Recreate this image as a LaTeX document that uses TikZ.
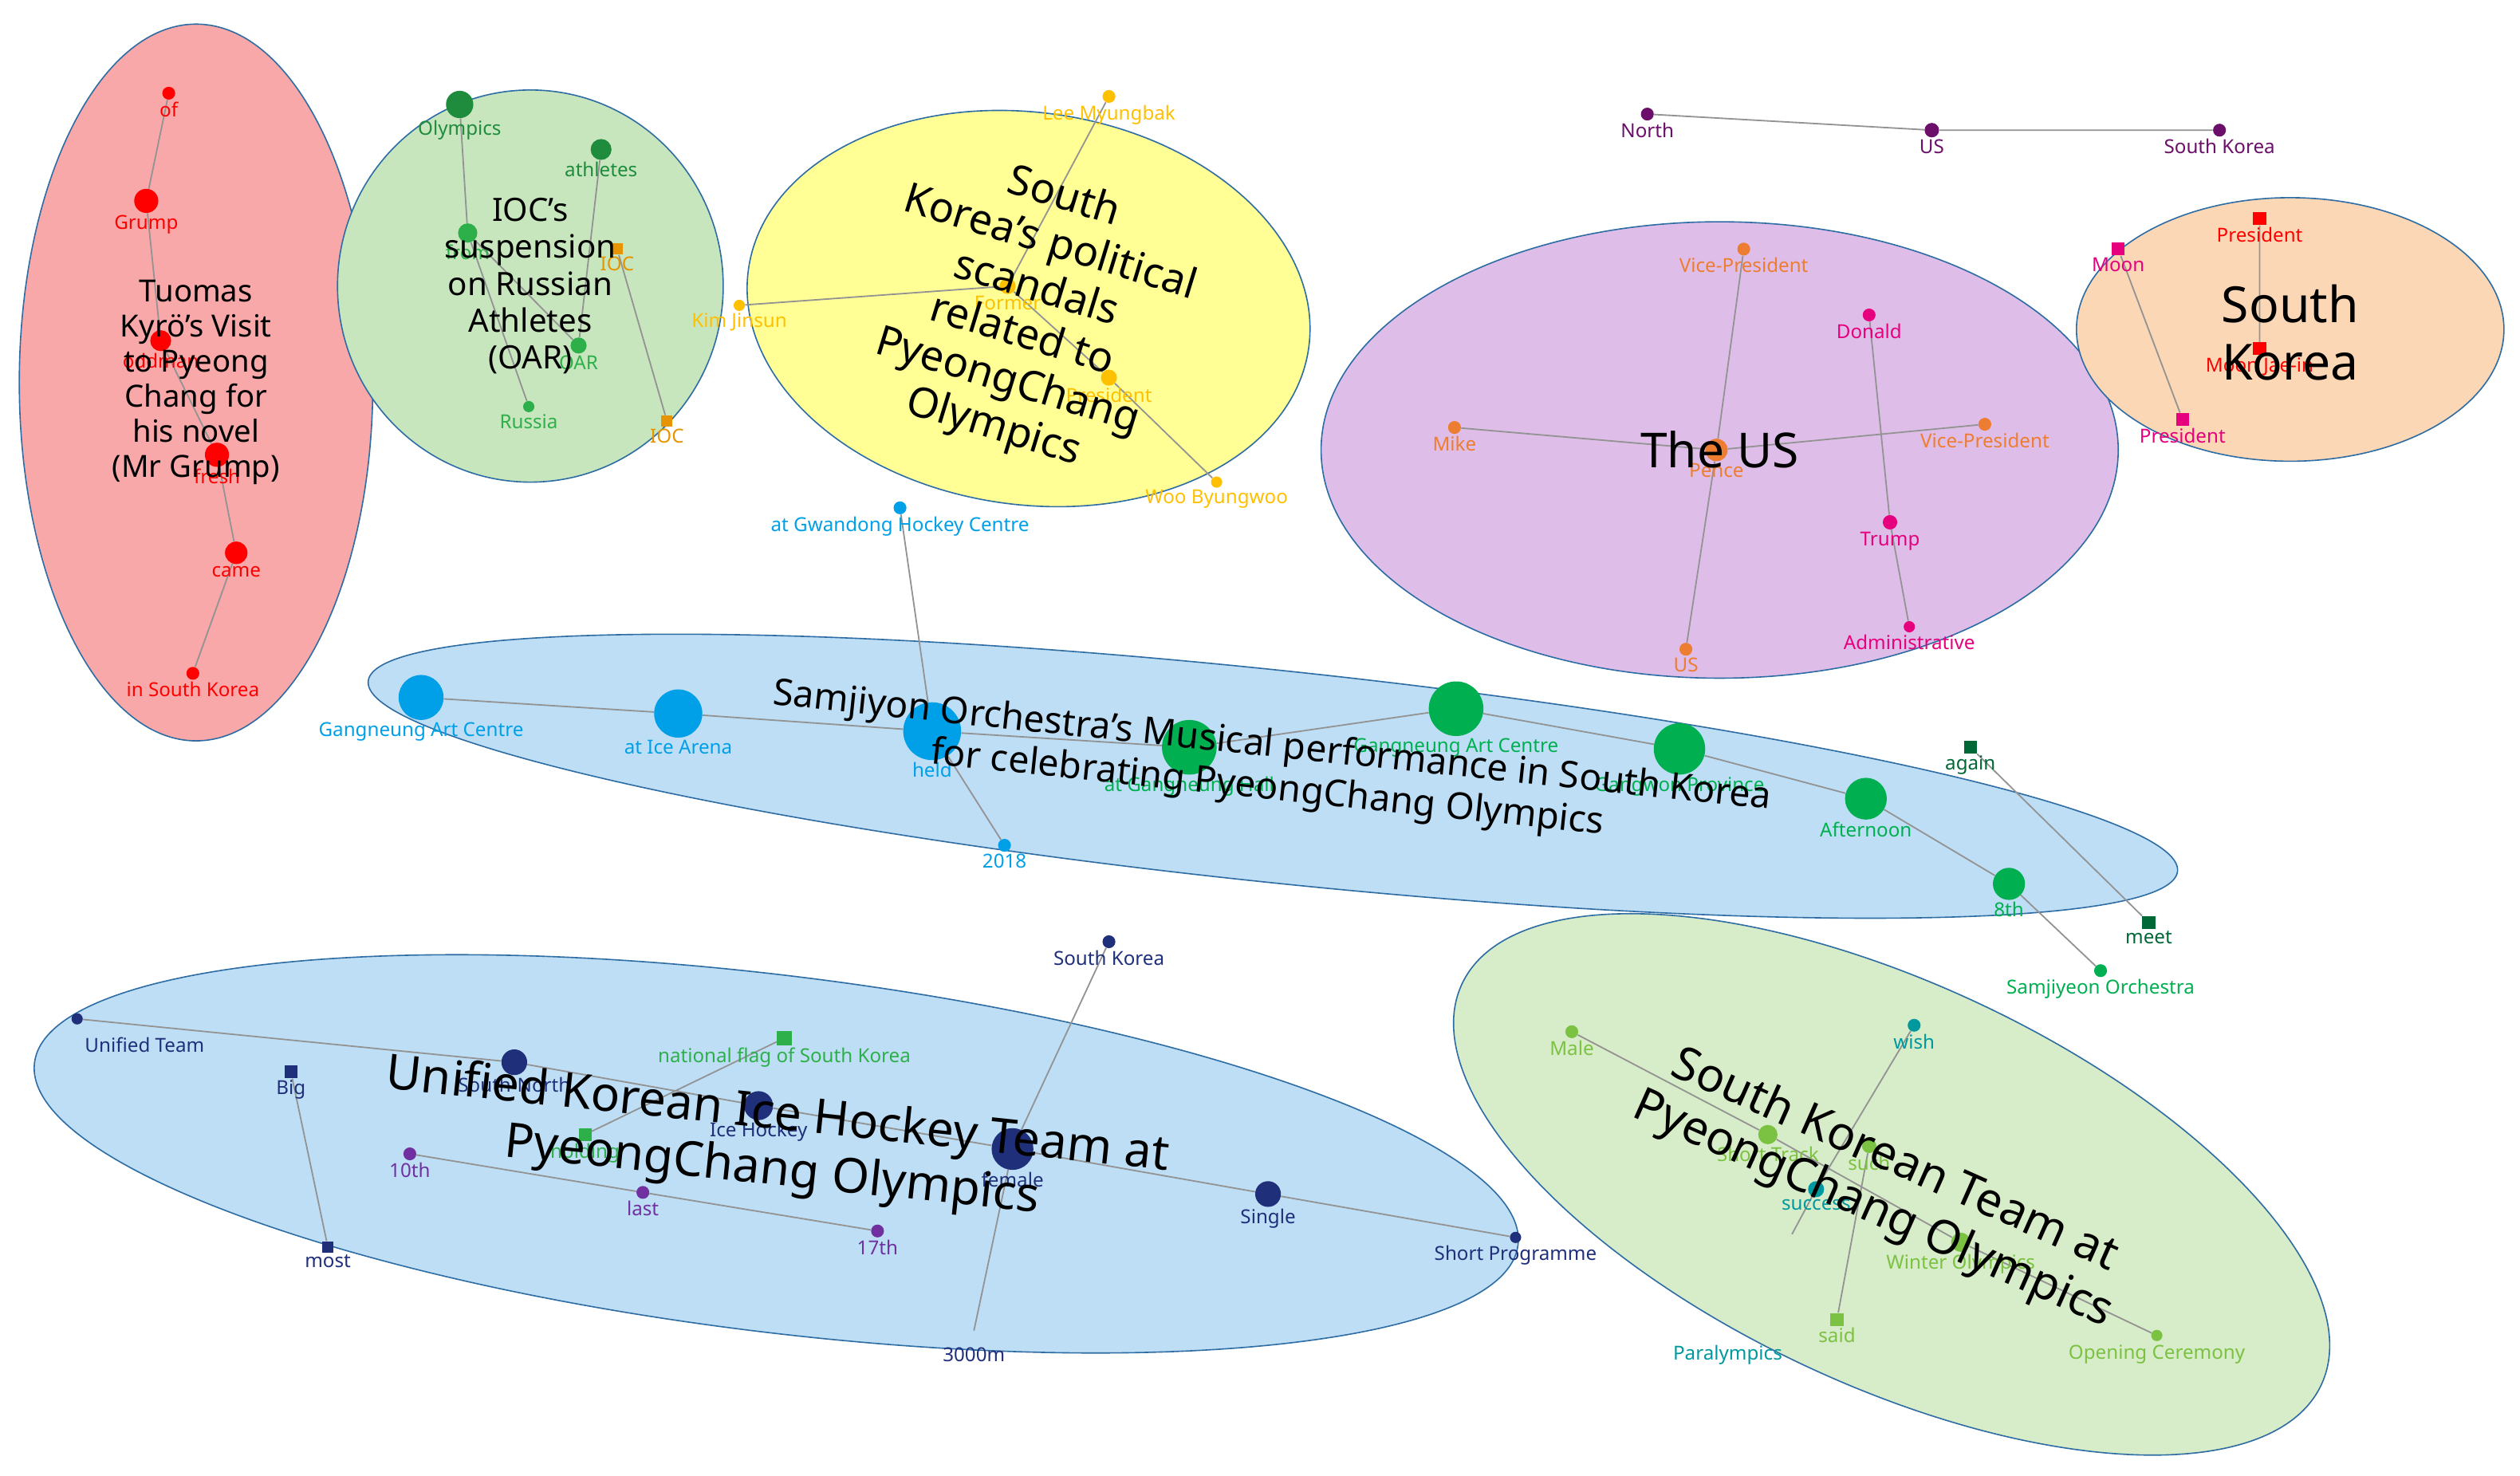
\documentclass[tikz,border=0pt]{standalone}
\usepackage{fontspec}
\setmainfont{Noto Sans}
\usetikzlibrary{shapes.geometric}
\pgfdeclarelayer{bg}\pgfdeclarelayer{ed}
\pgfsetlayers{bg,ed,main}
\definecolor{cRed}{HTML}{FF0000}\definecolor{cDG}{HTML}{1E8C3C}\definecolor{cOr}{HTML}{E69500}
\definecolor{cYe}{HTML}{FFC000}\definecolor{cPu}{HTML}{6B0F6B}\definecolor{cOg}{HTML}{ED7D31}
\definecolor{cPk}{HTML}{E6007E}\definecolor{cBl}{HTML}{00A0E9}\definecolor{cGr}{HTML}{00B050}
\definecolor{cDk}{HTML}{006837}\definecolor{cNv}{HTML}{1F2F7A}\definecolor{cVi}{HTML}{7030A0}
\definecolor{cLg}{HTML}{7CC242}\definecolor{cTe}{HTML}{00999F}\definecolor{cMG}{HTML}{2DB04A}
\definecolor{cEd}{HTML}{2E6DA4}
\tikzset{
 ell/.style={ellipse,draw=cEd,line width=0.8pt,inner sep=0},
 ed/.style={draw=gray!85,line width=0.9pt},
 ttl/.style={align=center,font=\fontsize{#1}{1.15\dimexpr#1pt\relax}\selectfont,text=black},
 lb/.style={font=\fontsize{12}{13}\selectfont,inner sep=1pt}
}
\newcommand\dt[6]{\node[circle,fill=#5,minimum size=#4pt,inner sep=0,label={[lb,text=#5,label distance=0pt]below:{#6}}] (#1) at (#2,#3) {};}
\newcommand\sq[6]{\node[rectangle,fill=#5,minimum size=#4pt,inner sep=0,label={[lb,text=#5,label distance=0pt]below:{#6}}] (#1) at (#2,#3) {};}
\begin{document}
\begin{tikzpicture}[x=1pt,y=-1pt]
\useasboundingbox (0,0) rectangle (1568,918);
\begin{pgfonlayer}{bg}
\fill[white] (0,0) rectangle (1568,918);
\node[ell,fill={rgb,255:red,248;green,168;blue,168},minimum width=220pt,minimum height=446pt] (e1) at (122,238) {};
\node[ell,fill={rgb,255:red,200;green,230;blue,190},minimum width=240pt,minimum height=244pt] (e2) at (330,178) {};
\node[ell,fill={rgb,255:red,255;green,255;blue,150},minimum width=352pt,minimum height=244pt,rotate=-8] (e3) at (640,192) {};
\node[ell,fill={rgb,255:red,222;green,190;blue,232},minimum width=496pt,minimum height=284pt] (e4) at (1070,280) {};
\node[ell,fill={rgb,255:red,252;green,215;blue,182},minimum width=266pt,minimum height=164pt] (e5) at (1425,205) {};
\node[ell,fill={rgb,255:red,190;green,222;blue,245},minimum width=1132pt,minimum height=132pt,rotate=-6] (e6) at (792,483) {};
\node[ell,fill={rgb,255:red,190;green,222;blue,245},minimum width=930pt,minimum height=222pt,rotate=-7] (e7) at (483,718) {};
\node[ell,fill={rgb,255:red,215;green,236;blue,200},minimum width=590pt,minimum height=250pt,rotate=-25] (e8) at (1177,737) {};
\end{pgfonlayer}
% red group
\dt{r1}{105}{58}{8}{cRed}{of}
\dt{r2}{91}{125}{15}{cRed}{Grump}
\dt{r3}{100}{212}{13}{cRed}{oddman}
\dt{r4}{135}{283}{15}{cRed}{fresh}
\dt{r5}{147}{344}{14}{cRed}{came}
\dt{r6}{120}{419}{8}{cRed}{in South Korea}
% green group
\dt{g1}{286}{65}{17}{cDG}{Olympics}
\dt{g2}{374}{93}{13}{cDG}{athletes}
\dt{g3}{291}{145}{12}{cMG}{from}
\sq{g4}{384}{155}{7}{cOr}{IOC}
\dt{g5}{360}{215}{10}{cMG}{OAR}
\dt{g6}{329}{253}{7}{cMG}{Russia}
\sq{g7}{415}{262}{7}{cOr}{IOC}
% yellow group
\dt{y1}{690}{60}{8}{cYe}{Lee Myungbak}
\dt{y2}{460}{190}{7}{cYe}{Kim Jinsun}
\dt{y3}{627}{178}{10}{cYe}{Former}
\dt{y4}{690}{235}{10}{cYe}{President}
\dt{y5}{757}{300}{7}{cYe}{Woo Byungwoo}
% top right
\dt{p1}{1025}{71}{8}{cPu}{North}
\dt{p2}{1202}{81}{9}{cPu}{US}
\dt{p3}{1381}{81}{8}{cPu}{South Korea}
% purple ellipse
\dt{u1}{1085}{155}{8}{cOg}{Vice-President}
\dt{u2}{1163}{196}{8}{cPk}{Donald}
\dt{u3}{905}{266}{8}{cOg}{Mike}
\dt{u4}{1068}{280}{14}{cOg}{Pence}
\dt{u5}{1235}{264}{8}{cOg}{Vice-President}
\dt{u6}{1176}{325}{9}{cPk}{Trump}
\dt{u7}{1049}{404}{8}{cOg}{US}
\dt{u8}{1188}{390}{7}{cPk}{Administrative}
% orange ellipse
\sq{k1}{1406}{136}{8}{cRed}{President}
\sq{k2}{1318}{155}{8}{cPk}{Moon}
\sq{k3}{1406}{217}{8}{cRed}{Moon Jae-in}
\sq{k4}{1358}{261}{8}{cPk}{President}
% band
\dt{b1}{262}{434}{28}{cBl}{Gangneung Art Centre}
\dt{b2}{422}{444}{30}{cBl}{at Ice Arena}
\dt{b3}{580}{455}{36}{cBl}{held}
\dt{b4}{560}{316}{8}{cBl}{at Gwandong Hockey Centre}
\dt{b5}{625}{526}{8}{cBl}{2018}
\dt{c1}{740}{465}{34}{cGr}{at Gangneung Hall}
\dt{c2}{906}{441}{34}{cGr}{Gangneung Art Centre}
\dt{c3}{1045}{466}{32}{cGr}{Gangwon Province}
\dt{c4}{1161}{497}{26}{cGr}{Afternoon}
\dt{c5}{1250}{550}{20}{cGr}{8th}
\dt{c6}{1307}{604}{8}{cGr}{Samjiyeon Orchestra}
\sq{c7}{1226}{465}{8}{cDk}{again}
\sq{c8}{1337}{574}{8}{cDk}{meet}
% bottom blue
\dt{n1}{48}{634}{7}{cNv}{}
\node[lb,text=cNv] at (90,650) {Unified Team};
\sq{n2}{181}{667}{8}{cNv}{Big}
\sq{n3}{204}{776}{7}{cNv}{most}
\dt{n4}{320}{661}{16}{cNv}{South-North}
\sq{n5}{488}{646}{9}{cMG}{national flag of South Korea}
\sq{n6}{364}{706}{8}{cMG}{holding}
\dt{n7}{472}{688}{18}{cNv}{Ice Hockey}
\dt{v1}{255}{718}{8}{cVi}{10th}
\dt{v2}{400}{742}{8}{cVi}{last}
\dt{v3}{546}{766}{8}{cVi}{17th}
\dt{n8}{630}{715}{26}{cNv}{female}
\dt{n9}{690}{586}{8}{cNv}{South Korea}
\coordinate (n10) at (606,828);
\node[lb,text=cNv] at (606,843) {3000m};
\dt{n11}{789}{743}{16}{cNv}{Single}
\dt{n12}{943}{770}{7}{cNv}{Short Programme}
% green bottom
\dt{l1}{978}{642}{8}{cLg}{Male}
\dt{l2}{1191}{638}{8}{cTe}{wish}
\dt{l3}{1100}{706}{12}{cLg}{Short Track}
\dt{l4}{1163}{713}{9}{cLg}{such}
\dt{l5}{1130}{740}{10}{cTe}{success}
\dt{l6}{1220}{773}{12}{cLg}{Winter Olympics}
\sq{l7}{1143}{821}{8}{cLg}{said}
\coordinate (l8) at (1115,768);
\node[lb,text=cTe] at (1075,843) {Paralympics};
\dt{l9}{1342}{831}{7}{cLg}{}
\node[lb,text=cLg] at (1342,843) {Opening Ceremony};
\begin{pgfonlayer}{ed}
\draw[ed] (r1)--(r2)--(r3)--(r4)--(r5)--(r6);
\draw[ed] (g1)--(g3)--(g6) (g2)--(g5) (g4)--(g7) (g3)--(g5);
\draw[ed] (y1)--(y3) (y2)--(y3)--(y4)--(y5);
\draw[ed] (p1)--(p2)--(p3);
\draw[ed] (u1)--(u4)--(u7) (u3)--(u4)--(u5) (u2)--(u6)--(u8);
\draw[ed] (k1)--(k3) (k2)--(k4);
\draw[ed] (b1)--(b2)--(b3)--(c1)--(c2)--(c3)--(c4)--(c5)--(c6) (b4)--(b3)--(b5) (c7)--(c8);
\draw[ed] (n1)--(n4)--(n7)--(n8)--(n11)--(n12) (n2)--(n3) (v1)--(v2)--(v3) (n6)--(n5) (n9)--(n8)--(n10);
\draw[ed] (l1)--(l3)--(l6)--(l9) (l2)--(l5)--(l8) (l4)--(l7);
\end{pgfonlayer}
% titles
\node[ttl=19] at (122,238) {Tuomas\\Kyrö’s Visit\\to Pyeong\\Chang for\\his novel\\(Mr Grump)};
\node[ttl=20] at (330,178) {IOC’s\\suspension\\on Russian\\Athletes\\(OAR)};
\node[ttl=26,rotate=-17] at (640,195) {South\\Korea’s political\\scandals\\related to\\PyeongChang\\Olympics};
\node[ttl=30] at (1070,280) {The US};
\node[ttl=31] at (1425,207) {South\\Korea};
\node[ttl=23,rotate=-6] at (790,478) {Samjiyon Orchestra’s Musical performance in South Korea\\for celebrating PyeongChang Olympics};
\node[ttl=30,rotate=-6] at (482,712) {Unified Korean Ice Hockey Team at\\PyeongChang Olympics};
\node[ttl=29,rotate=-24] at (1172,738) {South Korean Team at\\PyeongChang Olympics};
\end{tikzpicture}
\end{document}
